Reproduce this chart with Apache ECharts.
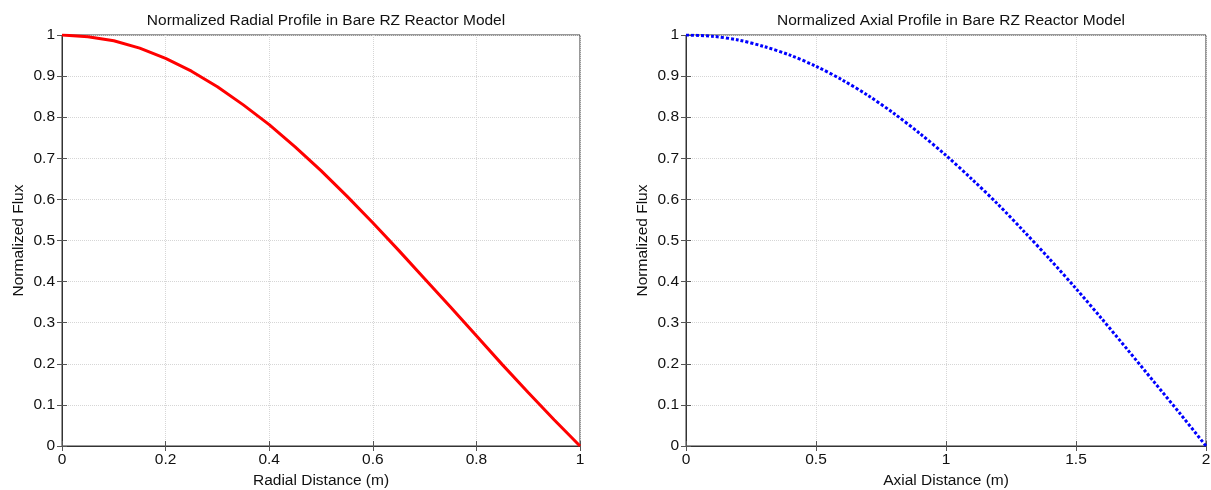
<!DOCTYPE html>
<html>
<head>
<meta charset="utf-8">
<script src="https://cdn.jsdelivr.net/npm/echarts@6/dist/echarts.min.js"></script>
<style>html,body{margin:0;padding:0;background:#fff}#c{width:1211px;height:490px}</style>
</head>
<body>
<div id="c"></div>
<script>
// Radial profile
var radialX = [0,0.05,0.1,0.15,0.2,0.25,0.3,0.35,0.4,0.45,0.5,0.55,0.6,0.65,0.7,0.75,0.8,0.85,0.9,0.95,1.0];
var radialY = [1,0.996,0.986,0.968,0.943,0.912,0.874,0.830,0.782,0.728,0.670,0.608,0.543,0.476,0.407,0.338,0.268,0.198,0.130,0.064,0];
// Axial profile
var axialX = [0,0.1,0.2,0.3,0.4,0.5,0.6,0.7,0.8,0.9,1.0,1.1,1.2,1.3,1.4,1.5,1.6,1.7,1.8,1.9,2.0];
var axialY = [1,0.997,0.988,0.972,0.951,0.924,0.891,0.853,0.809,0.760,0.707,0.649,0.588,0.522,0.454,0.383,0.309,0.233,0.156,0.079,0];

var titles = ['Normalized Radial Profile in Bare RZ Reactor Model','Normalized Axial Profile in Bare RZ Reactor Model'];
var xNames = ['Radial Distance (m)','Axial Distance (m)'];
var yName = 'Normalized Flux';

function pairs(xs, ys){ return xs.map(function(x,i){return [x, ys[i]];}); }

var FONT = 'Liberation Sans, Arial, sans-serif';
var FS = 15.5;
var TXT = '#111';
var AX = '#333';
var TICK = '#555';
var GRIDC = '#d6d6d6';
var grids = [
  {left:62, right:631, top:35, bottom:44, show:true, borderColor:AX, borderWidth:1, containLabel:false, outerBoundsMode:'none'},
  {left:686, right:5, top:35, bottom:44, show:true, borderColor:AX, borderWidth:1, containLabel:false, outerBoundsMode:'none'}
];
function fmt(v){ return String(Math.round(v*10)/10); }
function mainX(gi, max, interval){
  return {type:'value', gridIndex:gi, min:0, max:max, interval:interval, position:'bottom',
    name:xNames[gi], nameLocation:'middle', nameGap:23,
    nameTextStyle:{fontFamily:FONT, fontSize:FS, color:TXT},
    axisLine:{show:true, lineStyle:{color:AX}},
    axisTick:{show:true, inside:true, length:5, lineStyle:{color:TICK}},
    axisLabel:{fontFamily:FONT, fontSize:FS, color:TXT, margin:6, formatter:fmt},
    splitLine:{show:true, lineStyle:{type:'dotted', color:GRIDC}}};
}
function topX(gi, max, interval){
  return {type:'value', gridIndex:gi, min:0, max:max, interval:interval, position:'top',
    axisLine:{show:true, lineStyle:{color:AX}},
    axisTick:{show:true, inside:true, length:5, lineStyle:{color:TICK}},
    axisLabel:{show:false}, splitLine:{show:false}};
}
function mainY(gi){
  return {type:'value', gridIndex:gi, min:0, max:1, interval:0.1, position:'left',
    name:yName, nameLocation:'middle', nameGap:35, nameRotate:90,
    nameTextStyle:{fontFamily:FONT, fontSize:FS, color:TXT},
    axisLine:{show:true, lineStyle:{color:AX}},
    axisTick:{show:true, inside:true, length:5, lineStyle:{color:TICK}},
    axisLabel:{fontFamily:FONT, fontSize:FS, color:TXT, margin:7, formatter:fmt},
    splitLine:{show:true, lineStyle:{type:'dotted', color:GRIDC}}};
}
function rightY(gi){
  return {type:'value', gridIndex:gi, min:0, max:1, interval:0.1, position:'right',
    axisLine:{show:true, lineStyle:{color:AX}},
    axisTick:{show:true, inside:true, length:5, lineStyle:{color:TICK}},
    axisLabel:{show:false}, splitLine:{show:false}};
}

var chart = echarts.init(document.getElementById('c'), null, {renderer:'canvas'});
chart.setOption({
  animation:false,
  backgroundColor:'#fff',
  title:[
    {text:titles[0], left:321, top:8, textAlign:'center', textStyle:{fontFamily:FONT, fontSize:FS, fontWeight:'normal', color:TXT}},
    {text:titles[1], left:946, top:8, textAlign:'center', textStyle:{fontFamily:FONT, fontSize:FS, fontWeight:'normal', color:TXT}}
  ],
  grid:grids,
  xAxis:[mainX(0,1,0.2), mainX(1,2,0.5), topX(0,1,0.2), topX(1,2,0.5)],
  yAxis:[mainY(0), mainY(1), rightY(0), rightY(1)],
  series:[
    {type:'line', xAxisIndex:0, yAxisIndex:0, data:pairs(radialX, radialY), showSymbol:false, symbol:'none',
      lineStyle:{color:'#ff0000', width:3}},
    {type:'line', xAxisIndex:1, yAxisIndex:1, data:pairs(axialX, axialY), showSymbol:false, symbol:'none', smooth:0.3,
      lineStyle:{color:'#0000ff', width:3, type:[3,2]}}
  ]
});
</script>
</body>
</html>
